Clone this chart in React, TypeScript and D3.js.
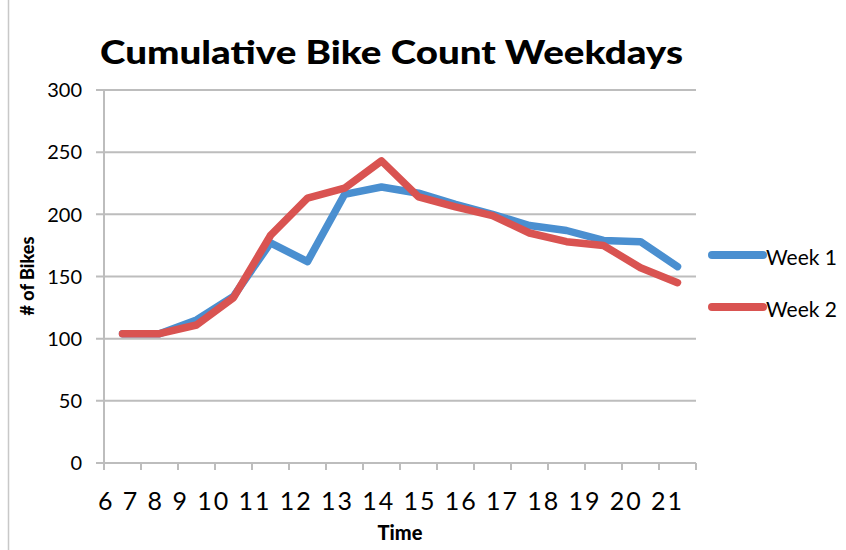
import React from "react";
import * as d3 from "d3";

const hours = ["6", "7", "8", "9", "10", "11", "12", "13", "14", "15", "16", "17", "18", "19", "20", "21"];
const week1 = [104, 104, 115, 134, 177, 162, 216, 222, 217, 208, 200, 191, 187, 179, 178, 158];
const week2 = [104, 104, 111, 133, 183, 213, 221, 243, 214, 206, 199, 185, 178, 175, 157, 145];
const yTicks = [0, 50, 100, 150, 200, 250, 300];

const series = [
  { name: "Week 1", values: week1, color: "#4A8FD0" },
  { name: "Week 2", values: week2, color: "#D95351" },
];

const W = 846;
const H = 550;
const margin = { top: 90, right: 150, bottom: 87, left: 104 };
const font = "Lato, Carlito, 'Open Sans', sans-serif";
const gridColor = "#BDBDBD";

export default function App() {
  const x = d3.scaleBand().domain(hours).range([margin.left, W - margin.right]).padding(0);
  const y = d3.scaleLinear().domain([0, 300]).range([H - margin.bottom, margin.top]);
  const cx = (h: string) => (x(h) as number) + x.bandwidth() / 2;

  const line = d3
    .line<number>()
    .x((_, i) => cx(hours[i]))
    .y((d) => y(d));

  // category boundaries for the x tick marks
  const bounds = hours.map((h) => x(h) as number).concat([x.range()[1]]);
  const x0 = x.range()[0];
  const x1 = x.range()[1];
  const yBase = y(0);

  return (
    <svg
      width={W}
      height={H}
      style={{ position: "absolute", left: 0, top: 0, background: "#fff" }}
      fontFamily={font}
    >
      <rect width={W} height={H} fill="#fff" />
      <line x1={8.5} x2={8.5} y1={0} y2={H} stroke="#C8C8C8" strokeWidth={1.5} />

      <text
        x={100}
        y={64}
        fontSize={32}
        fontWeight={900}
        textLength={583}
        lengthAdjust="spacingAndGlyphs"
        fill="#000"
      >
        Cumulative Bike Count Weekdays
      </text>

      {/* grid + y axis */}
      {yTicks.map((t) => (
        <g key={t}>
          <line x1={x0 - 8} x2={x1} y1={y(t)} y2={y(t)} stroke={gridColor} strokeWidth={2} />
          <text x={82} y={y(t)} dy="0.36em" textAnchor="end" fontSize={20} fill="#000">
            {t}
          </text>
        </g>
      ))}
      <line x1={x0} x2={x0} y1={y(300)} y2={yBase} stroke={gridColor} strokeWidth={2} />

      {/* x ticks */}
      {bounds.map((b, i) => (
        <line key={i} x1={b} x2={b} y1={yBase} y2={yBase + 7} stroke={gridColor} strokeWidth={2} />
      ))}
      <text
        x={98}
        y={510}
        fontSize={25}
        textLength={584}
        lengthAdjust="spacing"
        fill="#000"
      >
        {hours.join(" ")}
      </text>

      <text x={400} y={540} textAnchor="middle" fontSize={20} fontWeight={900} fill="#000">
        Time
      </text>
      <text
        transform="translate(34,276) rotate(-90)"
        textAnchor="middle"
        fontSize={18}
        fontWeight={900}
        fill="#000"
      >
        # of Bikes
      </text>

      {series.map((s) => (
        <path
          key={s.name}
          d={line(s.values) || ""}
          fill="none"
          stroke={s.color}
          strokeWidth={7.5}
          strokeLinejoin="round"
          strokeLinecap="round"
        />
      ))}

      {series.map((s, i) => {
        const ly = 255 + i * 52;
        return (
          <g key={s.name}>
            <line x1={712} x2={763} y1={ly} y2={ly} stroke={s.color} strokeWidth={8} strokeLinecap="round" />
            <text x={766} y={ly + 10} fontSize={21} fill="#000">
              {s.name}
            </text>
          </g>
        );
      })}
    </svg>
  );
}
